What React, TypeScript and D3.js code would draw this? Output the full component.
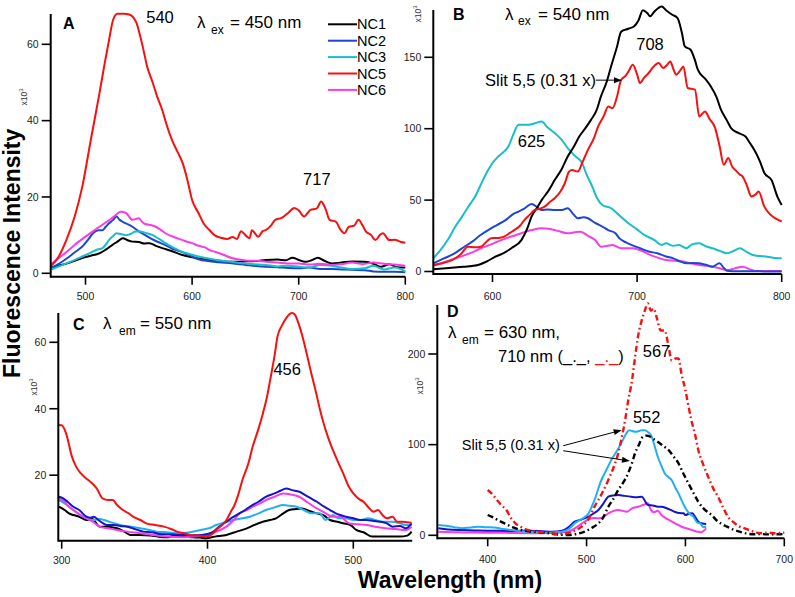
import React from "react";
import * as d3 from "d3";

type Pt = [number, number];

// ---------------- Panel A : λex = 450 nm (emission) ----------------
const A_NC1: Pt[] = [[468,1.5],[475,2],[483,2.6],[490,3.3],[497,4],[505,4.6],[513,5.2],[519,6.2],[525,7.4],[530,8.3],[535,9.2],[540,8.6],[544,8.3],[550,8.2],[555,7.8],[560,7.9],[566,7.2],[572,6.6],[580,5.9],[591,4.8],[598,4.3],[606,3.9],[617,3.5],[628,3.2],[637,3],[648,3.1],[660,3.2],[669,3.5],[680,3.6],[688,3.4],[694,4.1],[700,3.5],[706,3],[712,3.4],[718,4.1],[724,3.3],[731,2.6],[740,2.8],[750,3.1],[762,3],[770,2.5],[777,1.7],[785,2.4],[792,1.6],[800,1.5]];
const A_NC2: Pt[] = [[468,1.5],[475,2.5],[483,4],[490,5.5],[497,7],[503,9],[507,10.5],[512,11.3],[516,11.3],[519,12.2],[522,13.1],[526,14],[529,14.9],[532,14],[535,13.5],[540,12.8],[544,12.2],[550,11],[556,10],[562,9],[568,8.2],[575,7.4],[581,6.5],[588,5.8],[594,5.2],[600,4.4],[606,3.7],[615,3.2],[625,2.9],[637,2.6],[650,2.2],[660,1.9],[669,1.7],[680,1.6],[690,1.4],[700,1.3],[710,1.5],[720,1.1],[731,1.1],[740,1],[750,0.9],[762,0.8],[770,0.5],[780,0.4],[790,0.4],[800,0.3]];
const A_NC3: Pt[] = [[468,1],[475,1.8],[482,2.6],[490,3.5],[497,4.4],[504,5.3],[510,6.1],[516,6.6],[519,7.5],[522,8.7],[526,9.8],[529,10.5],[533,10.3],[538,10],[543,10.4],[546,10.9],[550,11],[556,10.6],[563,10],[569,9],[575,7.9],[582,6.8],[591,5.6],[598,5],[606,4.4],[615,3.9],[625,3.4],[637,3],[648,2.6],[658,2.4],[669,2.2],[680,1.8],[690,2],[700,1.7],[710,1.5],[720,2.2],[731,2],[740,1.5],[750,1.1],[762,1.3],[770,2],[780,1],[790,1.5],[800,0.5]];
const A_NC5: Pt[] = [[468,2],[474,4],[482,8.7],[490,15],[497,22.7],[505,35],[513,47],[518,55],[522,61],[526,66.5],[530,68],[536,68],[541,67.8],[545,67],[548,65.5],[551,62.5],[554,59],[558,54],[563,50],[567,46.5],[572,42.8],[576,39],[581,35],[586,32],[591,29],[596,24],[600,19.2],[606,15.8],[611,13],[616,11.4],[621,10],[627,9.3],[633,9],[638,9.5],[642,9],[646,11],[650,10],[654,9.2],[656,11.3],[662,9.6],[666,11],[669,11.3],[674,12.5],[678,14],[684,14.5],[690,15.8],[696,17.1],[700,16.5],[705,14.9],[709,16],[711,16.6],[717,17],[721,18.8],[725,17],[729,14],[735,13.5],[739,11.5],[743,10.5],[747,12.2],[752,12.5],[756,14],[760,12.5],[763,11],[768,10],[772,8.7],[776,10],[779,10.5],[785,8.7],[790,8.8],[796,8.2],[800,8]];
const A_NC6: Pt[] = [[468,2.5],[475,4],[483,5.8],[490,7.5],[500,9.6],[507,11],[513,12.2],[520,13.5],[527,14.9],[533,16.1],[538,15.8],[544,14],[550,14.4],[553,13.5],[556,12.9],[562,12.6],[566,12.2],[571,11.3],[575,10.5],[583,9.5],[591,8.7],[596,8.2],[600,7.9],[606,7.2],[612,6.8],[617,6],[622,5.6],[630,4.8],[637,4],[645,3.6],[653,3.3],[661,3.3],[669,3],[680,2.8],[690,2.6],[700,2.6],[710,2.3],[720,2.5],[731,2.2],[740,2.4],[750,2.8],[760,2.4],[770,2.8],[780,2.5],[790,2.3],[800,2]];

// ---------------- Panel B : λex = 540 nm (emission) ----------------
const B_NC1: Pt[] = [[559,1.5],[570,2.5],[580,3.3],[590,4.6],[596,7],[602,10.4],[608,13],[613,16.3],[620,22],[624,30],[627,38.4],[631,45],[634,50],[639,57],[643,64],[648,72],[652,80.5],[656,87],[660,94.5],[664,100],[668,106],[672,113],[675,122.6],[679,133],[682,143.6],[686,157],[689,168],[694,170],[698,171.7],[701,176],[704,183],[707,181],[709,178.7],[712,182],[717,185.5],[720,183],[724,180],[728,177.5],[731,167],[733,157.6],[737,155.3],[740,148],[742,141.3],[747,135],[751,129.6],[755,122],[758,113.3],[762,106],[765,100.4],[770,97],[775,94.5],[778,90],[781,85.2],[785,77],[788,69],[793,64],[797,52.5],[800,46.6]];
const B_NC2: Pt[] = [[559,5.7],[566,9],[574,12.8],[580,17],[586,20.9],[591,25],[597,29],[603,32.5],[609,36],[614,40],[618,42],[622,44],[627,47.3],[631,45],[634,43],[638,43.5],[643,43],[648,43],[652,44.3],[656,40],[659,37.3],[663,38],[666,37.3],[671,34],[676,31.4],[680,29],[685,26.8],[688,23],[692,20.5],[696,18.6],[702,16.3],[708,14],[714,12.8],[720,10.5],[725,9.2],[730,7],[734,5.7],[738,6],[743,5.7],[748,4.5],[752,3.4],[757,5.7],[760,2.5],[762,0.6],[770,0.2],[780,0.2],[790,0],[800,0]];
const B_NC3: Pt[] = [[559,9.2],[564,15],[569,22],[574,31],[579,38.4],[583,45],[588,52.5],[592,61],[597,71],[600,76],[604,80.5],[608,84],[611,87.5],[614,95],[618,102.7],[621,102.7],[625,102.7],[630,104],[634,105],[638,101],[643,97],[648,92],[652,86.4],[657,81],[662,75.9],[665,68],[669,59.5],[672,52],[676,46.6],[682,44.3],[688,39],[694,33.8],[700,29.5],[705,25.6],[712,22],[717,18.6],[720,19.8],[725,18],[729,18.6],[734,16.3],[738,19],[743,19.8],[748,17.5],[752,16.3],[757,14.5],[762,12.8],[767,14.5],[771,16.3],[776,13.5],[780,11.6],[785,10.8],[790,10.4],[795,9.5],[800,9.2]];
const B_NC5: Pt[] = [[559,4.6],[566,6],[572,8],[578,12],[583,17.4],[588,17],[592,17.4],[596,21],[599,23.3],[604,23.5],[608,24.4],[612,27],[615,29],[619,32],[622,36],[626,40],[629,43],[633,44],[636,45.4],[640,49],[643,51.3],[647,56],[650,61.8],[653,70],[655,71],[659,70],[662,76],[666,85.2],[670,93],[673,101.5],[677,109],[680,115.6],[683,114.4],[686,122],[689,134.3],[692,137],[694,140],[697,144.8],[700,138],[702,132],[705,136],[708,139],[711,143],[715,146],[718,142.5],[721,145],[723,147],[725,142],[727,137.8],[730,141],[732,143.6],[735,128.5],[740,127.3],[743,108.6],[747,112],[750,107],[754,100.4],[757,88],[760,74.7],[763,79.4],[766,73],[768,71],[771,68],[773,66.5],[776,60],[779,52.5],[782,54],[784,56],[788,45.4],[792,40],[796,37],[800,35]];
const B_NC6: Pt[] = [[559,4],[568,7],[578,10.4],[585,13],[592,16.3],[599,19],[606,22],[613,24.5],[620,26.8],[627,29],[634,30.3],[640,29.8],[645,28.5],[652,26.8],[657,27.5],[661,27.9],[666,25],[671,22],[675,17.4],[679,17.8],[683,18.6],[689,16.3],[697,16.3],[703,14.5],[709,11.6],[715,9.5],[720,8],[726,7.5],[732,7],[738,5.5],[743,4.6],[748,4],[752,3.4],[757,2.3],[762,1],[767,2],[773,3.4],[778,1.5],[782,0.3],[790,0.3],[800,0.3]];

// ---------------- Panel C : λem = 550 nm (excitation) ----------------
const C_NC1: Pt[] = [[298,10.5],[302,9.5],[305,8.5],[308,8],[312,7.5],[317,6.5],[321,6.8],[326,4.5],[331,4.5],[338,4],[343,3],[347,2],[354,2],[361,1.8],[366,1.5],[372,1.3],[378,1.8],[383,1.5],[390,1.3],[395,1.2],[399,1],[405,1.5],[413,2],[420,3],[427,4],[432,5],[438,6],[443,6.5],[447,7],[452,8.5],[456,9.5],[461,9.8],[465,10],[470,9.2],[475,8.5],[480,7.8],[484,6.5],[489,6],[493,5.5],[498,5],[502,3.5],[507,2.8],[513,1.5],[520,1.5],[526,1.5],[532,1.5],[537,1.8],[540,3]];
const C_NC2: Pt[] = [[298,13.5],[301,13],[304,12],[308,10.5],[312,9.5],[317,7.5],[320,7.2],[322,7.5],[326,6.2],[331,5],[336,5],[340,4.7],[345,4.5],[350,3.8],[356,3],[362,2.8],[367,2.3],[375,2.2],[383,2],[390,1.9],[396,2],[400,2.3],[404,3],[408,4.5],[413,6],[418,7.5],[424,9],[429,10.5],[435,12],[440,13.5],[446,14.5],[450,15.3],[454,16],[458,15.5],[463,15],[467,14],[471,13],[475,12],[480,10.5],[484,9.5],[488,8.5],[491,8],[495,7.5],[500,7],[505,6.5],[509,6.5],[514,6.2],[518,6],[523,5.5],[527,4.5],[532,4.7],[536,4],[540,5.5]];
const C_NC3: Pt[] = [[298,12.5],[302,11.5],[305,10.5],[308,9.5],[312,8.2],[317,7],[322,6.5],[326,6.8],[329,6.5],[334,5.8],[340,5],[346,4.6],[354,4],[360,3.5],[365,3],[372,2.8],[381,2.5],[388,2.8],[395,3.5],[401,4],[406,5],[412,5.8],[418,6.5],[424,7],[429,7.5],[435,8.5],[440,9.5],[446,10.3],[452,11],[456,10.8],[461,10.5],[466,9.5],[472,8.5],[477,8.5],[481,6.5],[486,8],[490,7],[495,7],[500,6.5],[505,6.5],[510,7],[515,6.5],[520,6],[527,6],[532,5.5],[536,5],[540,5]];
const C_NC5: Pt[] = [[298,35.1],[300,35],[303,32.6],[307,25.6],[310,22.5],[313,20.6],[318,18.6],[321,17.5],[324,16],[328,13],[332,12.5],[335,12.5],[338,11],[342,9.5],[346,8.5],[349,7.5],[354,6.5],[358,5.5],[364,5],[370,4.5],[375,3.8],[379,3],[384,2.5],[388,2],[394,1.8],[399,1.5],[403,2.2],[406,3.5],[410,5],[413,6.5],[416,9],[418,10.5],[421,14],[424,18.6],[428,23.5],[431,28.6],[435,34],[438,38.6],[441,44],[443,48.7],[446,56],[448,61.7],[451,65],[454,67.3],[458,68.8],[460,68.3],[462,66.2],[465,62],[468,56.7],[471,51],[474,45.7],[477,40],[479,36.6],[483,31],[486,27.6],[490,23.5],[493,20.6],[497,16.5],[500,14.5],[504,12.8],[507,12],[510,10.5],[514,9],[517,9.5],[520,8],[523,7],[527,7.5],[530,6],[534,6],[537,5.8],[540,5.7]];
const C_NC6: Pt[] = [[298,13],[302,12],[305,10.5],[308,9.5],[312,8.2],[317,7],[322,5.8],[326,4.5],[332,4],[338,3.5],[345,3],[354,2.5],[362,2],[372,1.5],[383,1.3],[391,1.5],[399,2],[406,3],[413,4.5],[418,6.5],[422,8.5],[427,9.5],[431,10.5],[436,11.5],[440,12.5],[446,13.5],[452,14.5],[457,14.2],[463,13.5],[468,12],[475,10],[480,8.8],[486,7.5],[491,7.5],[497,5.5],[503,5.2],[509,5],[515,4.5],[522,4],[529,3.8],[536,3.5],[540,4.5]];

// ---------------- Panel D : λem = 630 nm (solid), 710 nm (dash-dot) ----------------
const D_NC2: Pt[] = [[350,7.7],[360,6.5],[374,5.8],[390,5.3],[407,5],[424,4.8],[441,5],[455,4.5],[465,4],[475,5],[482,9],[488,15],[495,17.5],[502,20.5],[507,24],[512,27.9],[517,35],[522,42.6],[527,44],[532,44.4],[538,43.5],[545,42.6],[550,42],[556,42.6],[559,38],[562,33.4],[567,33],[572,31.5],[576,31.5],[581,29.8],[585,28],[589,26],[594,24.5],[598,24.3],[600,22.4],[604,24],[607,24.3],[610,20],[613,15],[617,13],[621,12.5]];
const D_NC3: Pt[] = [[350,11.4],[358,10.5],[366,9],[374,7.7],[382,8.6],[390,9.5],[398,9],[407,8.6],[415,7],[424,5.8],[432,4.8],[441,4],[450,3.5],[458,2.9],[466,3.2],[475,4],[482,7],[488,13.2],[495,18],[502,24.3],[508,38.9],[515,61],[520,72],[525,83],[530,92],[535,101.4],[540,112],[543,116],[546,115],[549,114.2],[553,115],[556,116],[559,116],[562,114],[566,108.7],[569,98],[572,86.7],[576,76],[579,68.4],[583,64],[586,61],[590,52],[593,46.3],[596,38.9],[600,30],[604,24],[608,20.5],[612,14],[615,13.2],[618,9],[621,9.5]];
const D_NC6: Pt[] = [[350,4],[365,3.5],[380,3],[395,2.9],[407,2.9],[425,2.5],[440,2.3],[458,2.2],[470,3],[481,4],[490,9],[498,15],[507,19],[514,18.7],[522,24.3],[532,27.9],[541,26],[546,29.8],[552,31.5],[557,33.4],[562,35.3],[565,28],[568,25.5],[572,27],[576,22],[580,19],[585,16],[590,13],[595,10],[600,8],[606,6],[612,4],[616,3.5],[621,7.7]];
const D_NC1_710: Pt[] = [[400,22.4],[405,20],[410,17],[417,13.2],[425,9],[434,5.8],[445,4],[458,2.9],[470,1],[481,0.3],[490,1.5],[498,4],[505,8],[512,13.2],[517,20],[522,31.5],[527,40],[532,50],[537,58],[542,68.4],[546,80],[549,90.4],[553,100],[557,108.7],[561,110],[564,109],[568,106],[572,103.2],[577,99],[583,94],[588,87],[593,79.4],[598,68],[603,57.3],[608,47],[613,37],[618,30],[622,26],[627,22],[631,17],[636,13],[642,9.5],[648,6.5],[655,4],[662,2],[669,1.1],[676,1.5],[682,1],[690,1.2],[696,1.1],[700,1.5]];
const D_NC5_710: Pt[] = [[400,50],[405,45],[410,38],[414,33],[419,27.9],[423,20],[428,13.2],[434,9],[441,5.8],[450,4],[458,2.9],[466,2],[475,1.5],[485,3.5],[490,6],[495,9.5],[502,18],[508,31.5],[515,45],[522,61],[527,74],[532,90.4],[536,110],[539,127],[542,148],[546,171],[549,196],[552,219],[556,238],[559,248],[562,255.8],[565,248],[568,250],[571,240],[575,226],[579,226],[583,208],[586,193],[590,195],[593,195],[596,178],[600,160],[603,143],[606,127],[610,110],[613,94],[618,78],[623,64.6],[628,52],[633,42.6],[638,31],[643,20.5],[648,15],[654,10],[660,7.7],[666,5],[672,3],[677,2.2],[683,3],[690,2.2],[695,2.5],[700,3]];

// ---------------- ticks & labels ----------------
const A_xTicks = [500, 600, 700, 800];
const A_yTicks = [0, 20, 40, 60];
const B_xTicks = [600, 700, 800];
const B_yTicks = [0, 50, 100, 150];
const C_xTicks = [300, 400, 500];
const C_yTicks = [20, 40, 60];
const D_xTicks = [400, 500, 600, 700];
const D_yTicks = [0, 100, 200];
const legendNames = ["NC1", "NC2", "NC3", "NC5", "NC6"];

const FONT = "'Liberation Sans', Arial, Helvetica, sans-serif";
const COL_AB: Record<string, string> = { NC1: "#000000", NC2: "#1e46d2", NC3: "#18bec8", NC5: "#f81010", NC6: "#f83ce6" };
const COL_CD: Record<string, string> = { NC1: "#000000", NC2: "#1414c8", NC3: "#20b0f0", NC5: "#f81010", NC6: "#f83ce6" };

type Series = { data: Pt[]; color: string; dash?: string; width?: number };
type PanelProps = {
  x: d3.ScaleLinear<number, number>;
  y: d3.ScaleLinear<number, number>;
  left: number; right: number; top: number; bottom: number;
  xTicks: number[]; yTicks: number[]; labelY: number;
  series: Series[];
};

function Panel({ x, y, left, right, top, bottom, xTicks, yTicks, labelY, series }: PanelProps) {
  const line = d3.line<Pt>().x(d => x(d[0])).y(d => y(d[1])).curve(d3.curveMonotoneX);
  return (
    <g>
      {series.map((s, i) => (
        <path key={i} d={line(s.data) || ""} fill="none" stroke={s.color} strokeWidth={s.width ?? 2}
          strokeDasharray={s.dash} strokeLinejoin="round" />
      ))}
      <line x1={left} x2={left} y1={top} y2={bottom + 1} stroke="#000" strokeWidth={2} />
      <line x1={left} x2={right} y1={bottom} y2={bottom} stroke="#000" strokeWidth={2} />
      {yTicks.map(t => (
        <g key={"y" + t}>
          <line x1={left - 9} x2={left} y1={y(t)} y2={y(t)} stroke="#000" strokeWidth={1.6} />
          <text x={left - 12} y={y(t)} dy="0.36em" textAnchor="end" fontSize={10.5} fill="#222">{t}</text>
        </g>
      ))}
      {xTicks.map(t => (
        <g key={"x" + t}>
          <line x1={x(t)} x2={x(t)} y1={bottom} y2={bottom + 8} stroke="#000" strokeWidth={1.6} />
          <text x={x(t)} y={labelY} textAnchor="middle" fontSize={10.5} fill="#222">{t}</text>
        </g>
      ))}
    </g>
  );
}

function X103({ x, y }: { x: number; y: number }) {
  return (
    <text transform={`translate(${x},${y}) rotate(-90)`} textAnchor="middle" fontSize={8.5} fill="#333">
      x10<tspan fontSize={6} dy={-4}>3</tspan>
    </text>
  );
}

function Lambda({ x, y, sub, rest, subDx, restDx }: { x: number; y: number; sub: string; rest: string; subDx: number; restDx: number }) {
  return (
    <text x={x} y={y} fontSize={17} fill="#000">
      <tspan x={x}>λ</tspan>
      <tspan x={x + subDx} dy={5.5} fontSize={12}>{sub}</tspan>
      <tspan x={x + restDx} dy={-5.5}>{rest}</tspan>
    </text>
  );
}

function Arrow({ x1, y1, x2, y2 }: { x1: number; y1: number; x2: number; y2: number }) {
  const a = Math.atan2(y2 - y1, x2 - x1);
  const L = 8, W = 3;
  const bx = x2 - L * Math.cos(a), by = y2 - L * Math.sin(a);
  const p1 = [bx + W * Math.sin(a), by - W * Math.cos(a)];
  const p2 = [bx - W * Math.sin(a), by + W * Math.cos(a)];
  return (
    <g>
      <line x1={x1} y1={y1} x2={bx} y2={by} stroke="#000" strokeWidth={1} />
      <polygon points={`${x2},${y2} ${p1[0]},${p1[1]} ${p2[0]},${p2[1]}`} fill="#000" />
    </g>
  );
}

export default function App() {
  // Panel scales
  const xA = d3.scaleLinear().domain([500, 800]).range([85.5, 405.3]);
  const yA = d3.scaleLinear().domain([0, 60]).range([273.3, 44.3]);
  const xB = d3.scaleLinear().domain([600, 800]).range([492.5, 781.7]);
  const yB = d3.scaleLinear().domain([0, 150]).range([271.5, 57.3]);
  const xC = d3.scaleLinear().domain([300, 500]).range([61.7, 353.3]);
  const yC = d3.scaleLinear().domain([0, 60]).range([541.6, 342.3]);
  const xD = d3.scaleLinear().domain([400, 700]).range([487.7, 784.3]);
  const yD = d3.scaleLinear().domain([0, 200]).range([535.3, 354]);

  const dashDot = "6,3,1.6,3";

  return (
    <svg width={795} height={597} viewBox="0 0 795 597"
      style={{ position: "absolute", left: 0, top: 0, background: "#fff" }} fontFamily={FONT}>
      <rect x={0} y={0} width={795} height={597} fill="#fff" />

      {/* Panel A */}
      <Panel x={xA} y={yA} left={50.7} right={xA(800)} top={14} bottom={276.7}
        xTicks={A_xTicks} yTicks={A_yTicks} labelY={299.5}
        series={[
          { data: A_NC1, color: COL_AB.NC1 },
          { data: A_NC2, color: COL_AB.NC2 },
          { data: A_NC3, color: COL_AB.NC3 },
          { data: A_NC6, color: COL_AB.NC6 },
          { data: A_NC5, color: COL_AB.NC5 },
        ]} />
      <X103 x={27} y={97} />
      <text x={63} y={29} fontSize={16} fontWeight="bold">A</text>
      <text x={160} y={23} fontSize={16.5} textAnchor="middle">540</text>
      <text x={xA(717)} y={184.5} fontSize={16.5} textAnchor="middle">717</text>
      <Lambda x={197} y={28.3} sub="ex" rest="= 450 nm" subDx={14} restDx={33} />
      {legendNames.map((n, i) => (
        <g key={n}>
          <line x1={328} x2={357} y1={24.3 + i * 16.4} y2={24.3 + i * 16.4} stroke={COL_AB[n]} strokeWidth={2} />
          <text x={357} y={24.3 + i * 16.4 + 5} fontSize={14.5}>{n}</text>
        </g>
      ))}

      {/* Panel B */}
      <Panel x={xB} y={yB} left={433.3} right={xB(800)} top={10} bottom={274}
        xTicks={B_xTicks} yTicks={B_yTicks} labelY={299.5}
        series={[
          { data: B_NC6, color: COL_AB.NC6 },
          { data: B_NC2, color: COL_AB.NC2 },
          { data: B_NC3, color: COL_AB.NC3 },
          { data: B_NC1, color: COL_AB.NC1 },
          { data: B_NC5, color: COL_AB.NC5 },
        ]} />
      <X103 x={421} y={14} />
      <text x={453} y={20} fontSize={16} fontWeight="bold">B</text>
      <Lambda x={505} y={19.5} sub="ex" rest="= 540 nm" subDx={13} restDx={33} />
      <text x={650} y={50} fontSize={16.5} textAnchor="middle">708</text>
      <text x={531.5} y={146.7} fontSize={16.5} textAnchor="middle">625</text>
      <text x={485} y={86} fontSize={16.5}>Slit 5,5 (0.31 x)</text>
      <Arrow x1={xB(671.5)} y1={yB(134)} x2={xB(689.5)} y2={yB(134)} />

      {/* Panel C */}
      <Panel x={xC} y={yC} left={58.3} right={xC(540.4)} top={313} bottom={540.7}
        xTicks={C_xTicks} yTicks={C_yTicks} labelY={564}
        series={[
          { data: C_NC1, color: COL_CD.NC1 },
          { data: C_NC3, color: COL_CD.NC3 },
          { data: C_NC6, color: COL_CD.NC6 },
          { data: C_NC2, color: COL_CD.NC2 },
          { data: C_NC5, color: COL_CD.NC5 },
        ]} />
      <X103 x={37} y={387} />
      <text x={73} y={329.5} fontSize={16} fontWeight="bold">C</text>
      <Lambda x={103} y={329.3} sub="em" rest="= 550 nm" subDx={16} restDx={37} />
      <text x={xC(456) - 2} y={375} fontSize={16.5} textAnchor="middle">456</text>

      {/* Panel D */}
      <Panel x={xD} y={yD} left={437.3} right={xD(700)} top={305} bottom={538.3}
        xTicks={D_xTicks} yTicks={D_yTicks} labelY={562.5}
        series={[
          { data: D_NC6, color: COL_CD.NC6 },
          { data: D_NC2, color: COL_CD.NC2 },
          { data: D_NC3, color: COL_CD.NC3 },
          { data: D_NC1_710, color: COL_CD.NC1, dash: dashDot, width: 2.4 },
          { data: D_NC5_710, color: COL_CD.NC5, dash: dashDot, width: 2.4 },
        ]} />
      <X103 x={423} y={386} />
      <text x={447} y={317} fontSize={16} fontWeight="bold">D</text>
      <Lambda x={448} y={338.3} sub="em" rest="= 630 nm," subDx={14} restDx={36} />
      <text x={498} y={362} fontSize={16.5}>
        710 nm (_._, <tspan fill="#f81010">_._</tspan>)
      </text>
      <text x={656.5} y={356.7} fontSize={16.5} textAnchor="middle">567</text>
      <text x={646.7} y={422.7} fontSize={16.5} textAnchor="middle">552</text>
      <text x={461.7} y={450} fontSize={14.6}>Slit 5,5 (0.31 x)</text>
      <Arrow x1={xD(476.4)} y1={yD(98.8)} x2={xD(535.5)} y2={yD(116)} />
      <Arrow x1={xD(476.4)} y1={yD(93.3)} x2={xD(543.9)} y2={yD(81.9)} />

      {/* Axis titles */}
      <text transform="translate(20,253.3) rotate(-90)" textAnchor="middle" fontSize={23} fontWeight="bold">
        Fluorescence Intensity
      </text>
      <text x={450} y={588} textAnchor="middle" fontSize={23} fontWeight="bold">Wavelength (nm)</text>
    </svg>
  );
}
